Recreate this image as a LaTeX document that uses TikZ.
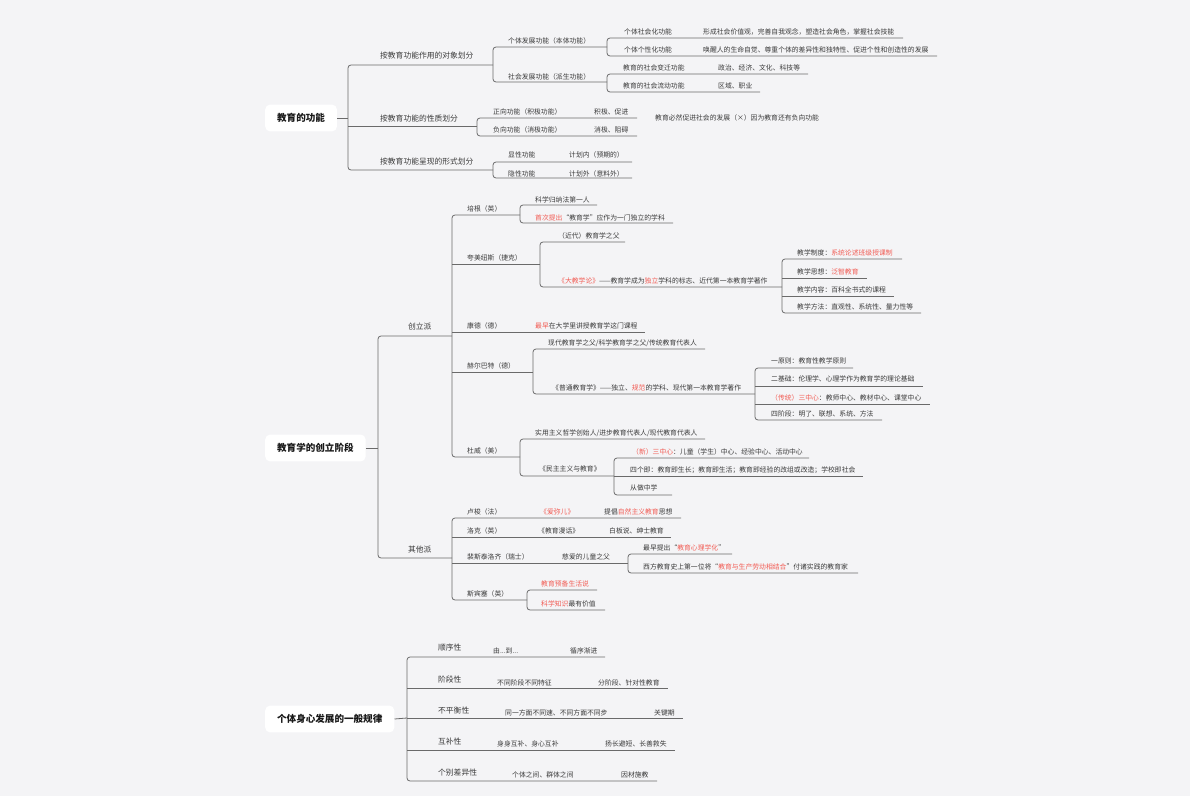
\documentclass[tikz,border=0pt]{standalone}
\usepackage{fontspec}
\setmainfont{Noto Sans CJK SC}
\usepackage{tikz}
\usetikzlibrary{positioning}
\definecolor{bgclr}{HTML}{F4F4F6}
\definecolor{ink}{HTML}{3A3A3A}
\definecolor{lineclr}{HTML}{6A6A6A}
\definecolor{hot}{HTML}{F25C54}
\begin{document}
\begin{tikzpicture}[x=1bp, y=-1bp,
    root/.style={fill=white, rounded corners=5pt, anchor=west, inner xsep=12pt, inner ysep=0pt, minimum height=27pt, text=black!90, font=\fontsize{9.6}{11}\selectfont\bfseries},
    lv1/.style={anchor=west, inner sep=0pt, text=ink, text height=0.86em, text depth=0.14em, font=\fontsize{7.8}{9}\selectfont},
    lv2/.style={anchor=west, inner sep=0pt, text=ink, text height=0.86em, text depth=0.14em, font=\fontsize{6.85}{8}\selectfont},
    ln/.style={draw=lineclr, line width=0.8pt, rounded corners=3pt}
]
\fill[bgclr] (0,0) rectangle (1190,796);
\useasboundingbox (0,0) rectangle (1190,796);

\node[root] (gn) at (265,118) {教育的功能};
\node[lv1] (a1) at (380,55) {按教育功能作用的对象划分};
\node[lv1] (a2) at (380,118) {按教育功能的性质划分};
\node[lv1] (a3) at (380,161) {按教育功能呈现的形式划分};
\node[lv2] (b1) at (508,40) {个体发展功能（本体功能）};
\node[lv2] (b2) at (508,76) {社会发展功能（派生功能）};
\node[lv2] (c1) at (624,31) {个体社会化功能};
\node[lv2] (c1x) at (703,31) {形成社会价值观，完善自我观念，塑造社会角色，掌握社会技能};
\node[lv2] (c2) at (624,49) {个体个性化功能};
\node[lv2] (c2x) at (703,49) {唤醒人的生命自觉、尊重个体的差异性和独特性、促进个性和创造性的发展};
\node[lv2] (c3) at (623,67) {教育的社会变迁功能};
\node[lv2] (c3x) at (718,67) {政治、经济、文化、科技等};
\node[lv2] (c4) at (623,85) {教育的社会流动功能};
\node[lv2] (c4x) at (718,85) {区域、职业};
\node[lv2] (d1) at (493,111) {正向功能（积极功能）};
\node[lv2] (d1x) at (594,111) {积极、促进};
\node[lv2] (d2) at (493,129) {负向功能（消极功能）};
\node[lv2] (d2x) at (594,129) {消极、阻碍};
\node[lv2] (note) at (655,117) {教育必然促进社会的发展（×）因为教育还有负向功能};
\node[lv2] (e1) at (508,154) {显性功能};
\node[lv2] (e1x) at (569,154) {计划内（预期的）};
\node[lv2] (e2) at (508,173) {隐性功能};
\node[lv2] (e2x) at (569,173) {计划外（意料外）};

\draw[ln] (gn.east) -- (348,118);
\draw[ln] (493,65) -- (348,65) -- (348,170) -- (493,170);
\draw[ln] (348,126) -- (477,126);
\draw[ln] (607,47) -- (493,47) -- (493,82) -- (607,82);
\draw[ln] (903,38) -- (607,38) -- (607,56) -- (937,56);
\draw[ln] (808,74) -- (607,74) -- (607,92) -- (760,92);
\draw[ln] (637,118) -- (477,118) -- (477,136) -- (637,136);
\draw[ln] (632,162) -- (493,162) -- (493,178) -- (632,178);

\node[root] (jx) at (265,448) {教育学的创立阶段};
\node[lv1] (f1) at (408,326) {创立派};
\node[lv1] (f2) at (408,549) {其他派};
\node[lv2] (g1) at (467,208) {培根（英）};
\node[lv2] (g1a) at (535,199) {科学归纳法第一人};
\node[lv2] (g1b) at (535,217) {\textcolor{hot}{首次提出}“教育学”应作为一门独立的学科};
\node[lv2] (g2) at (467,257) {夸美纽斯（捷克）};
\node[lv2] (g2a) at (558,235) {（近代）教育学之父};
\node[lv2] (g2b) at (558,280) {\textcolor{hot}{《大教学论》}——教育学成为\textcolor{hot}{独立}学科的标志、近代第一本教育学著作};
\node[lv2] (h1) at (797,252) {教学制度：\textcolor{hot}{系统论述班级授课制}};
\node[lv2] (h2) at (797,271) {教学思想：\textcolor{hot}{泛智教育}};
\node[lv2] (h3) at (797,289) {教学内容：百科全书式的课程};
\node[lv2] (h4) at (797,306) {教学方法：直观性、系统性、量力性等};
\node[lv2] (g3) at (467,325) {康德（德）};
\node[lv2] (g3a) at (535,325) {\textcolor{hot}{最早}在大学里讲授教育学这门课程};
\node[lv2] (g4) at (467,365) {赫尔巴特（德）};
\node[lv2] (g4a) at (548,342) {现代教育学之父/科学教育学之父/传统教育代表人};
\node[lv2] (g4b) at (552,387) {《普通教育学》——独立、\textcolor{hot}{规范}的学科、现代第一本教育学著作};
\node[lv2] (k1) at (771,360) {一原则：教育性教学原则};
\node[lv2] (k2) at (771,378) {二基础：伦理学、心理学作为教育学的理论基础};
\node[lv2] (k3) at (771,397) {\textcolor{hot}{（传统）三中心}：教师中心、教材中心、课堂中心};
\node[lv2] (k4) at (771,413) {四阶段：明了、联想、系统、方法};
\node[lv2] (g5) at (467,450) {杜威（美）};
\node[lv2] (g5a) at (535,432) {实用主义哲学创始人/进步教育代表人/现代教育代表人};
\node[lv2] (g5b) at (539,468) {《民主主义与教育》};
\node[lv2] (m1) at (632,451) {\textcolor{hot}{（新）三中心}：儿童（学生）中心、经验中心、活动中心};
\node[lv2] (m2) at (630,469) {四个即：教育即生长；教育即生活；教育即经验的改组或改造；学校即社会};
\node[lv2] (m3) at (630,487) {从做中学};
\node[lv2] (p1) at (467,511) {卢梭（法）};
\node[lv2] (p1a) at (540,511) {\textcolor{hot}{《爱弥儿》}};
\node[lv2] (p1b) at (604,511) {提倡\textcolor{hot}{自然主义教育}思想};
\node[lv2] (p2) at (467,530) {洛克（英）};
\node[lv2] (p2a) at (538,530) {《教育漫话》};
\node[lv2] (p2b) at (609,530) {白板说、绅士教育};
\node[lv2] (p3) at (467,556) {裴斯泰洛齐（瑞士）};
\node[lv2] (p3a) at (562,556) {慈爱的儿童之父};
\node[lv2] (q1) at (643,547) {最早提出“\textcolor{hot}{教育心理学化}”};
\node[lv2] (q2) at (643,566) {西方教育史上第一位将“\textcolor{hot}{教育与生产劳动相结合}”付诸实践的教育家};
\node[lv2] (p4) at (467,593) {斯宾塞（英）};
\node[lv2] (r1) at (541,583) {\textcolor{hot}{教育预备生活说}};
\node[lv2] (r2) at (541,603) {\textcolor{hot}{科学知识}最有价值};

\draw[ln] (jx.east) -- (378,448);
\draw[ln] (452,336) -- (378,336) -- (378,558) -- (452,558);
\draw[ln] (520,215) -- (452,215) -- (452,457) -- (520,457);
\draw[ln] (452,264) -- (540,264);
\draw[ln] (452,332) -- (645,332);
\draw[ln] (452,372) -- (533,372);
\draw[ln] (597,205) -- (520,205) -- (520,223) -- (673,223);
\draw[ln] (625,242) -- (540,242) -- (540,287) -- (782,287);
\draw[ln] (902,259) -- (782,259) -- (782,313) -- (921,313);
\draw[ln] (782,278) -- (867,278);
\draw[ln] (782,296) -- (894,296);
\draw[ln] (705,349) -- (533,349) -- (533,394) -- (755,394);
\draw[ln] (853,368) -- (755,368) -- (755,420) -- (882,420);
\draw[ln] (755,386) -- (923,386);
\draw[ln] (755,404) -- (930,404);
\draw[ln] (705,439) -- (520,439) -- (520,476) -- (614,476);
\draw[ln] (809,458) -- (614,458) -- (614,495) -- (672,495);
\draw[ln] (614,476) -- (863,476);
\draw[ln] (681,518) -- (452,518) -- (452,600) -- (527,600);
\draw[ln] (452,537) -- (671,537);
\draw[ln] (452,563) -- (628,563);
\draw[ln] (732,554) -- (628,554) -- (628,573) -- (858,573);
\draw[ln] (597,590) -- (527,590) -- (527,610) -- (605,610);

\node[root] (gl) at (265,719) {个体身心发展的一般规律};
\node[lv1] (s1) at (438,647) {顺序性};
\node[lv2] (s1a) at (493,650) {由...到...};
\node[lv2] (s1b) at (570,650) {循序渐进};
\node[lv1] (s2) at (438,679) {阶段性};
\node[lv2] (s2a) at (497,682) {不同阶段不同特征};
\node[lv2] (s2b) at (598,682) {分阶段、针对性教育};
\node[lv1] (s3) at (438,710) {不平衡性};
\node[lv2] (s3a) at (505,712) {同一方面不同速、不同方面不同步};
\node[lv2] (s3b) at (654,712) {关键期};
\node[lv1] (s4) at (438,741) {互补性};
\node[lv2] (s4a) at (497,743) {身身互补、身心互补};
\node[lv2] (s4b) at (605,743) {扬长避短、长善救失};
\node[lv1] (s5) at (438,772) {个别差异性};
\node[lv2] (s5a) at (512,774) {个体之间、群体之间};
\node[lv2] (s5b) at (621,774) {因材施教};

\draw[ln] (gl.east) -- (407,718);
\draw[ln] (605,657) -- (407,657) -- (407,781) -- (657,781);
\draw[ln] (407,688) -- (668,688);
\draw[ln] (407,718) -- (683,718);
\draw[ln] (407,750) -- (675,750);
\end{tikzpicture}
\end{document}
